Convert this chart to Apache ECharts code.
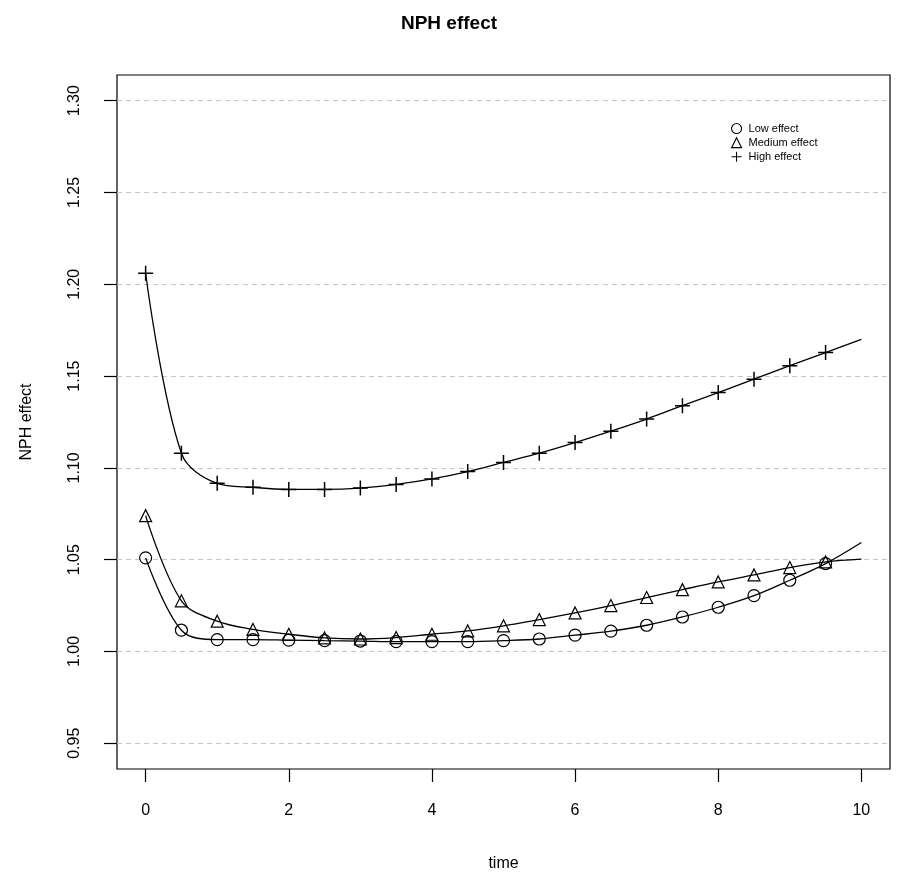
<!DOCTYPE html>
<html>
<head>
<meta charset="utf-8">
<script src="https://cdn.jsdelivr.net/npm/echarts@6/dist/echarts.min.js"></script>
<style>
  html, body { margin: 0; padding: 0; background: #fff; }
  #chart { width: 898px; height: 888px; }
</style>
</head>
<body>
<div id="chart"></div>
<script>
// time points (markers drawn at 0..9.5, curve runs on to 10)
var times = [0, 0.5, 1, 1.5, 2, 2.5, 3, 3.5, 4, 4.5, 5, 5.5, 6, 6.5, 7, 7.5, 8, 8.5, 9, 9.5, 10];
var lowEffect = [1.051, 1.0116, 1.0065, 1.0065, 1.0062, 1.0059, 1.0057, 1.0054, 1.0054, 1.0054, 1.0059,
  1.0068, 1.0089, 1.0111, 1.0143, 1.0188, 1.0241, 1.0304, 1.0388, 1.0479, 1.0594];
var mediumEffect = [1.074, 1.0276, 1.0165, 1.012, 1.0094, 1.0074, 1.0068, 1.0076, 1.0094, 1.0112, 1.014,
  1.0174, 1.021, 1.025, 1.0294, 1.0337, 1.0379, 1.0417, 1.0457, 1.0488, 1.0503];
var highEffect = [1.206, 1.108, 1.0916, 1.0894, 1.0883, 1.0883, 1.089, 1.091, 1.094, 1.098, 1.103,
  1.108, 1.1138, 1.120, 1.1266, 1.1339, 1.141, 1.1483, 1.1557, 1.1628, 1.170];
var xTicks = [0, 2, 4, 6, 8, 10];
var yTicks = [0.95, 1.00, 1.05, 1.10, 1.15, 1.20, 1.25, 1.30];

var plusPath = 'path://M4.5,0H5.5V4.5H10V5.5H5.5V10H4.5V5.5H0V4.5H4.5Z';
var font = 'Liberation Sans, Arial, sans-serif';

function toPoints(vals) {
  // last point (t = 10) only carries the curve, no marker
  return vals.map(function (v, i) {
    if (i === vals.length - 1) {
      return { value: [times[i], v], symbol: 'none' };
    }
    return [times[i], v];
  });
}

function makeSeries(name, vals, symbol, size, filled) {
  return {
    name: name,
    type: 'line',
    data: toPoints(vals),
    smooth: 0.35,
    symbol: symbol,
    symbolSize: size,
    showAllSymbol: true,
    lineStyle: { color: '#000', width: 1.3 },
    itemStyle: filled
      ? { color: '#000', borderWidth: 0 }
      : { color: 'rgba(0,0,0,0)', borderColor: '#000', borderWidth: 1.2 },
    emphasis: { disabled: true },
    z: 3
  };
}

var chart = echarts.init(document.getElementById('chart'));
var option = {
  animation: false,
  backgroundColor: '#fff',
  title: {
    text: 'NPH effect',
    left: 'center',
    top: 9,
    textStyle: { fontFamily: font, fontSize: 19, fontWeight: 'bold', color: '#000' }
  },
  legend: {
    orient: 'vertical',
    left: 731,
    top: 123,
    itemWidth: 10,
    itemHeight: 10,
    itemGap: 3,
    padding: 0,
    textStyle: { fontFamily: font, fontSize: 11, color: '#000', padding: [0, 0, 0, 2] },
    data: [
      { name: 'Low effect', icon: 'circle', itemStyle: { color: 'rgba(0,0,0,0)', borderColor: '#000', borderWidth: 1.1 } },
      { name: 'Medium effect', icon: 'triangle', itemStyle: { color: 'rgba(0,0,0,0)', borderColor: '#000', borderWidth: 1.1 } },
      { name: 'High effect', icon: plusPath, itemStyle: { color: '#000', borderWidth: 0 } }
    ]
  },
  grid: {
    left: 117,
    right: 8,
    top: 75,
    bottom: 119,
    show: true,
    borderColor: '#000',
    borderWidth: 1.2,
    containLabel: false
  },
  xAxis: {
    type: 'value',
    min: -0.4,
    max: 10.4,
    name: 'time',
    nameLocation: 'middle',
    nameGap: 87,
    nameTextStyle: { fontFamily: font, fontSize: 16, color: '#000' },
    axisLine: { show: false, onZero: false },
    axisTick: { show: true, length: 13, customValues: xTicks, lineStyle: { color: '#000', width: 1.2 } },
    axisLabel: { customValues: xTicks, margin: 34, fontFamily: font, fontSize: 16, color: '#000' },
    splitLine: { show: false }
  },
  yAxis: {
    type: 'value',
    min: 0.936,
    max: 1.314,
    name: 'NPH effect',
    nameLocation: 'middle',
    nameGap: 82,
    nameTextStyle: { fontFamily: font, fontSize: 16, color: '#000' },
    axisLine: { show: false, onZero: false },
    axisTick: { show: true, length: 13, customValues: yTicks, lineStyle: { color: '#000', width: 1.2 } },
    axisLabel: {
      customValues: yTicks,
      rotate: 90,
      margin: 34,
      fontFamily: font,
      fontSize: 16,
      color: '#000',
      formatter: function (v) { return v.toFixed(2); }
    },
    splitLine: { show: true, lineStyle: { color: '#c4c4c4', type: [5, 4], width: 1 } }
  },
  series: [
    makeSeries('Low effect', lowEffect, 'circle', 12, false),
    makeSeries('Medium effect', mediumEffect, 'triangle', 12, false),
    makeSeries('High effect', highEffect, plusPath, 15, true)
  ]
};
chart.setOption(option);
</script>
</body>
</html>
